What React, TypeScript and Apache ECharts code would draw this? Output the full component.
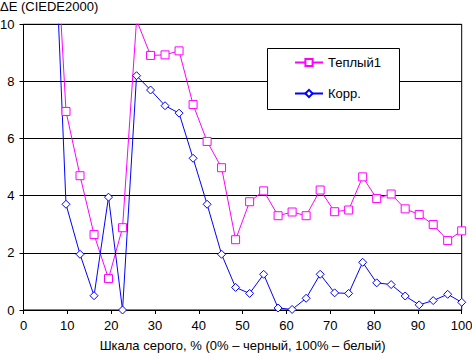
import React, { useEffect, useRef } from "react";
import * as echarts from "echarts";

const xValues = [0, 3.2, 6.5, 9.7, 12.9, 16.1, 19.4, 22.6, 25.8, 29.0, 32.3, 35.5, 38.7, 41.9, 45.2, 48.4, 51.6, 54.8, 58.1, 61.3, 64.5, 67.7, 71.0, 74.2, 77.4, 80.6, 83.9, 87.1, 90.3, 93.5, 96.8, 100];
const teplyi = [26, 21, 15.8, 6.95, 4.7, 2.64, 1.1, 2.88, 10.15, 8.91, 8.93, 9.07, 7.19, 5.9, 4.98, 2.46, 3.79, 4.17, 3.3, 3.43, 3.3, 4.2, 3.44, 3.5, 4.66, 3.9, 4.06, 3.54, 3.34, 2.99, 2.43, 2.77];
const korr = [25, 20, 15.6, 3.7, 1.95, 0.5, 3.95, 0.0, 8.2, 7.7, 7.15, 6.89, 5.31, 3.7, 1.95, 0.79, 0.58, 1.25, 0.07, 0.02, 0.41, 1.25, 0.6, 0.58, 1.67, 0.95, 0.89, 0.49, 0.18, 0.33, 0.55, 0.27];
const seriesNames = ["Теплый1", "Корр."];
const yTitle = "ΔE (CIEDE2000)";
const xTitle = "Шкала серого, % (0% – черный, 100% – белый)";

const FONT = "'Liberation Sans', Arial, sans-serif";
const MAGENTA = "#FF00FF";
const BLUE = "#0000FF";

export default function App() {
  const ref = useRef<HTMLDivElement>(null);
  useEffect(() => {
    if (!ref.current) return;
    const chart = echarts.init(ref.current, undefined, { renderer: "svg" });
    const toData = (ys: number[]) => xValues.map((x, i) => [x, ys[i]]);
    chart.setOption({
      animation: false,
      backgroundColor: "#fff",
      textStyle: { fontFamily: FONT },
      grid: {
        left: 23.5,
        right: 10.3,
        top: 24.3,
        bottom: 43,
        outerBoundsMode: "none",
        containLabel: false,
        show: true,
        borderColor: "#000",
        borderWidth: 1,
        backgroundColor: "transparent",
      },
      graphic: [
        {
          type: "text",
          left: 0,
          top: 0,
          style: { text: yTitle, fontSize: 13, fontFamily: FONT, fill: "#000" },
        },
        {
          type: "rect",
          z: 3,
          shape: { x: 267.5, y: 48.5, width: 132, height: 61 },
          style: { fill: "#fff", stroke: "#000", lineWidth: 1 },
        },
      ],
      legend: {
        orient: "vertical",
        left: 294,
        top: 56,
        padding: 0,
        itemGap: 18,
        itemWidth: 28,
        itemHeight: 9,
        z: 5,
        textStyle: { fontSize: 13, color: "#000", fontFamily: FONT },
        data: seriesNames,
      },
      xAxis: {
        type: "value",
        min: 0,
        max: 100,
        interval: 10,
        name: xTitle,
        nameLocation: "middle",
        nameGap: 29,
        nameTextStyle: { fontSize: 13, color: "#000", fontFamily: FONT },
        axisLine: { show: true, lineStyle: { color: "#000", width: 1 } },
        axisTick: { show: true, length: 4, lineStyle: { color: "#000" } },
        axisLabel: { fontSize: 13, color: "#000", margin: 9, fontFamily: FONT },
        splitLine: { show: false },
      },
      yAxis: {
        type: "value",
        min: 0,
        max: 10,
        interval: 2,
        axisLine: { show: true, lineStyle: { color: "#000", width: 1 } },
        axisTick: { show: true, length: 4, lineStyle: { color: "#000" } },
        axisLabel: { fontSize: 13, color: "#000", margin: 9, fontFamily: FONT },
        splitLine: { show: true, lineStyle: { color: "#000", width: 1 } },
      },
      series: [
        {
          name: seriesNames[0],
          type: "line",
          data: toData(teplyi),
          symbol: "rect",
          symbolSize: 8,
          clip: true,
          color: MAGENTA,
          lineStyle: { color: MAGENTA, width: 1 },
          itemStyle: { color: "#fff", borderColor: MAGENTA, borderWidth: 1 },
        },
        {
          name: seriesNames[1],
          type: "line",
          data: toData(korr),
          symbol: "diamond",
          symbolSize: 8,
          clip: true,
          color: BLUE,
          lineStyle: { color: BLUE, width: 1 },
          itemStyle: { color: "#fff", borderColor: BLUE, borderWidth: 1 },
        },
      ],
    });
    return () => chart.dispose();
  }, []);
  return (
    <div
      ref={ref}
      style={{ position: "fixed", left: 0, top: 0, width: 472, height: 353 }}
    />
  );
}
